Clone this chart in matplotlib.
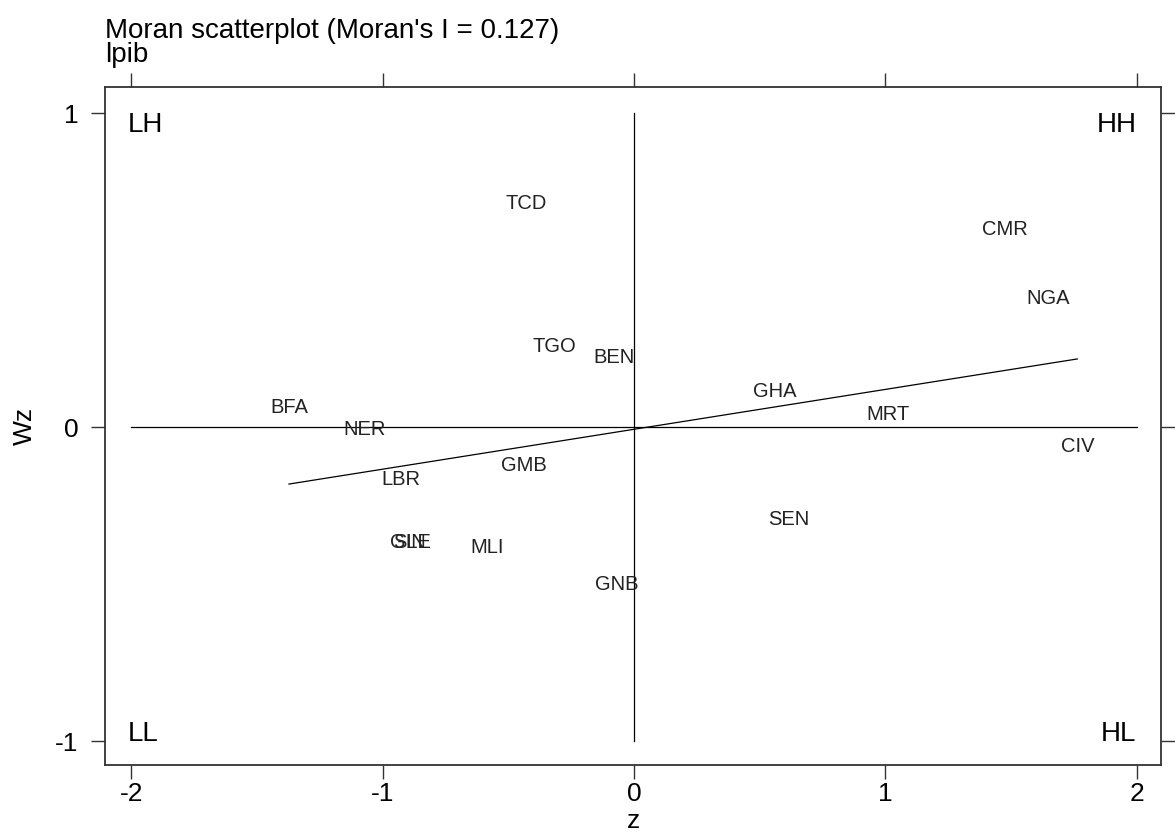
import matplotlib
matplotlib.use("Agg")
import matplotlib.pyplot as plt
import numpy as np

plt.rcParams['font.family'] = ['Liberation Sans', 'DejaVu Sans']

# Data (standardized z and spatial lag Wz)
countries = ["TCD", "CMR", "NGA", "TGO", "BEN", "GHA", "BFA", "MRT", "NER",
             "CIV", "GMB", "LBR", "SEN", "GIN", "SLE", "MLI", "GNB"]
z_vals = [-0.430, 1.477, 1.648, -0.318, -0.080, 0.561, -1.373, 1.011, -1.071,
          1.764, -0.438, -0.928, 0.617, -0.900, -0.885, -0.585, -0.068]
wz_vals = [0.717, 0.637, 0.417, 0.264, 0.229, 0.121, 0.070, 0.045, 0.000,
           -0.054, -0.115, -0.162, -0.287, -0.360, -0.360, -0.376, -0.494]
morans_i = 0.127
intercept = -0.007
variable = "lpib"

x_ticks = [-2, -1, 0, 1, 2]
y_ticks = [-1, 0, 1]
quadrants = ["LH", "HH", "LL", "HL"]

W, H = 1175, 835
fig = plt.figure(figsize=(W / 100, H / 100), dpi=100)
left, right, top, bottom = 105, 1161, 87, 765
ax = fig.add_axes([left / W, 1 - bottom / H, (right - left) / W, (bottom - top) / H])

ax.set_xlim(-2.105, 2.097)
ax.set_ylim(-1.076, 1.083)

frame_col = '#333333'
for s in ax.spines.values():
    s.set_color(frame_col)
    s.set_linewidth(1.3)

ax.set_xticks(x_ticks)
ax.set_yticks(y_ticks)
ax.set_xticklabels([str(t) for t in x_ticks])
ax.set_yticklabels([str(t) for t in y_ticks])
ax.tick_params(axis='both', which='both', direction='out', length=10, width=1.0,
               color=frame_col, labelsize=19, labelcolor='black',
               top=True, right=True, labeltop=False, labelright=False)
ax.tick_params(axis='x', pad=2)
ax.tick_params(axis='y', pad=9)

# Reference lines
ax.plot([x_ticks[0], x_ticks[-1]], [0, 0], color='black', lw=0.9)
ax.plot([0, 0], [y_ticks[0], y_ticks[-1]], color='black', lw=0.9)

# Regression line (slope = Moran's I)
zmin, zmax = min(z_vals), max(z_vals)
xs = np.array([zmin, zmax])
ax.plot(xs, intercept + morans_i * xs, color='black', lw=0.9)

# Labels
for c, xv, yv in zip(countries, z_vals, wz_vals):
    ax.text(xv, yv, c, ha='center', va='center_baseline', fontsize=14.5, color='#222222')

# Quadrant labels
ax.text(-2.015, 1.002, quadrants[0], ha='left', va='top', fontsize=20)
ax.text(2.0, 1.002, quadrants[1], ha='right', va='top', fontsize=20)
ax.text(-2.015, -1.0, quadrants[2], ha='left', va='baseline', fontsize=20)
ax.text(2.0, -1.0, quadrants[3], ha='right', va='baseline', fontsize=20)

ax.set_xlabel("z", fontsize=19)
ax.set_ylabel("Wz", fontsize=19)
ax.xaxis.set_label_coords(0.5, -(821 - bottom) / (bottom - top))
ax.xaxis.label.set_va('center')
ax.yaxis.set_label_coords((25 - left) / (right - left), 0.5)
ax.yaxis.label.set_va('center')

fig.text(left / W, 1 - 68 / H,
         "Moran scatterplot (Moran's I = %.3f)\n%s" % (morans_i, variable),
         ha='left', va='bottom', fontsize=20, linespacing=0.9)

fig.savefig("out.png", dpi=100, facecolor='white')
